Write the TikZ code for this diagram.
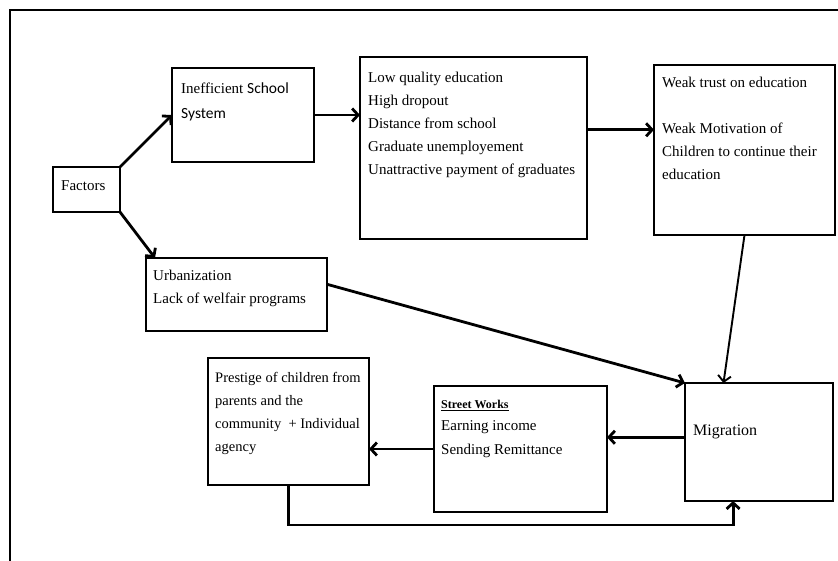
\documentclass[tikz,border=0pt]{standalone}
\usepackage{fontspec}
\setmainfont{Liberation Serif}
\newfontfamily\calib{Carlito}
\usetikzlibrary{arrows.meta,calc}
\newcommand{\tf}{\fontsize{15}{23}\selectfont}
\begin{document}
\begin{tikzpicture}[x=1pt,y=-1pt,
  box/.style={draw, line width=2.9pt, inner sep=0pt, outer sep=0pt, anchor=north west},
  txt/.style={anchor=north west, inner sep=0pt, align=left, font=\tf, yshift=16.1pt},
  conn/.style={line width=2.8pt, -{Straight Barb[length=6pt,width=13pt]}},
  thinconn/.style={line width=1.9pt, -{Straight Barb[length=6pt,width=13pt]}}]
\useasboundingbox (0,0) rectangle (838,561);
\draw[line width=2pt] (10,561) -- (10,10) -- (838,10);
% boxes
\node[box, minimum width=67pt, minimum height=45pt] (factors) at (53,167) {};
\node[box, minimum width=142pt, minimum height=94pt] (ineff) at (172,68) {};
\node[box, minimum width=227pt, minimum height=182pt] (lowq) at (360,57) {};
\node[box, minimum width=181pt, minimum height=170pt] (weak) at (654,65) {};
\node[box, minimum width=181pt, minimum height=73pt] (urban) at (146,258) {};
\node[box, minimum width=148pt, minimum height=118pt] (migr) at (685,383) {};
\node[box, minimum width=173pt, minimum height=126pt] (street) at (434,386) {};
\node[box, minimum width=161pt, minimum height=127pt] (prest) at (208,358) {};
% texts
\node[txt] (factorsT) at (61,190) {\strut Factors};
\node[txt] (ineffT) at (181,93) {\strut Inefficient {\calib\fontsize{15.5}{23}\selectfont School}\\[2pt]{\calib\fontsize{15.5}{23}\selectfont System}};
\node[txt] (lowqT) at (368,82) {\strut Low quality education\\High dropout\\Distance from school\\Graduate unemployement\\Unattractive payment of graduates};
\node[txt] (weakT) at (662,87) {\strut Weak trust on education\\ \\Weak Motivation of\\Children to continue their\\education};
\node[txt] (urbanT) at (153,280) {\strut Urbanization\\Lack of welfair programs};
\node[txt, font=\fontsize{16}{23}\selectfont] (migrT) at (693,435) {\strut Migration};
\node[txt] (streetT) at (441,408) {\strut{\fontsize{12}{23}\selectfont\bfseries\underline{Street Works}}\\[-1pt]Earning income\\[1pt]Sending Remittance};
\node[txt, font=\fontsize{14.5}{23}\selectfont] (prestT) at (215,382) {\strut Prestige of children from\\parents and the\\community\ \ + Individual\\agency};
% connectors
\draw[conn] (factors.north east) -- (ineff.west);
\draw[conn] (factors.south east) -- ($(urban.north west)+(9,0)$);
\draw[conn] (ineff.east) -- (ineff.east -| lowq.west);
\coordinate (lq) at ($(lowq.north east)!0.4!(lowq.south east)$);
\draw[conn] (lq) -- (lq -| weak.west);
\coordinate (ur) at ($(urban.north east)!0.36!(urban.south east)$);
\draw[conn] (ur) -- (migr.north west);
\coordinate (mt) at ($(migr.north west)!0.26!(migr.north east)$);
\draw[thinconn] (weak.south) -- (mt);
\coordinate (ml) at ($(migr.north west)!0.46!(migr.south west)$);
\draw[conn] (ml) -- (ml -| street.east);
\draw[conn] (street.west) -- (street.west -| prest.east);
\coordinate (mb) at ($(migr.south west)!0.325!(migr.south east)$);
\draw[conn] (prest.south) -- ++(0,40) -| (mb);
\end{tikzpicture}
\end{document}
